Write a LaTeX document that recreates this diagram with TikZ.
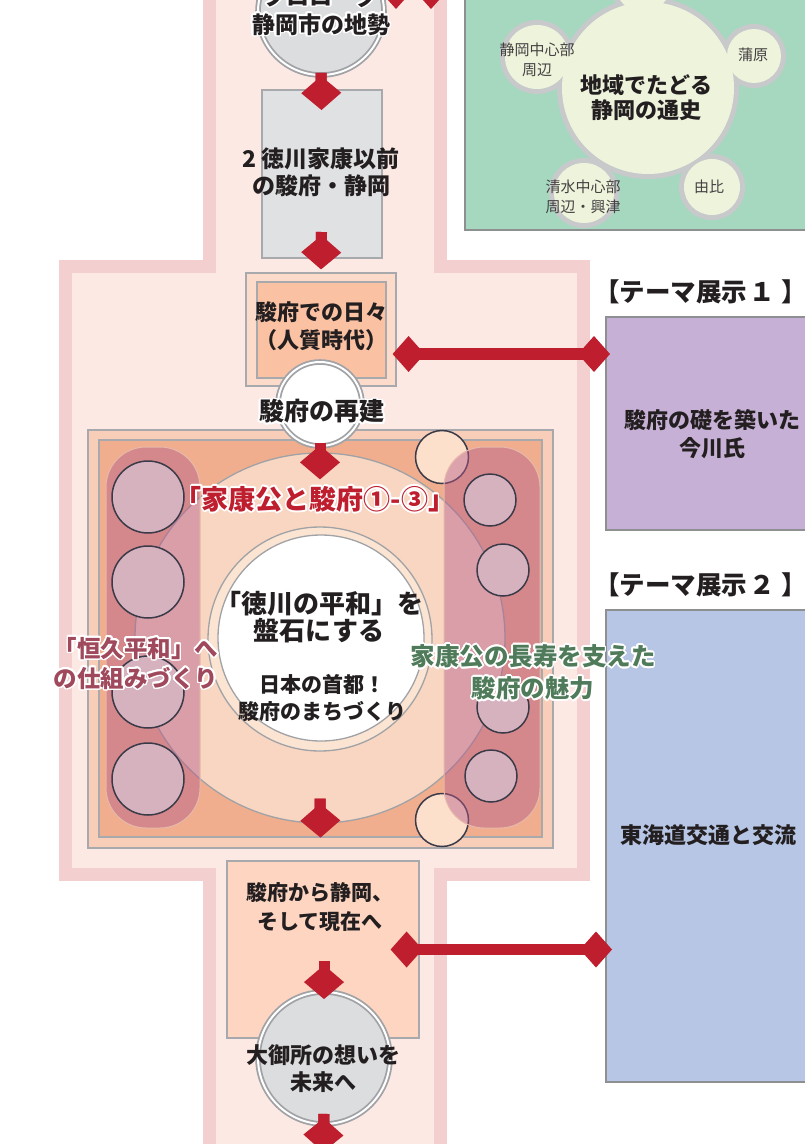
\documentclass[tikz,border=0pt]{standalone}
\usepackage{fontspec}
\setmainfont{Noto Sans CJK JP}
\usepackage{contour}
\contourlength{1.6pt}
\contournumber{24}
\usetikzlibrary{arrows.meta,calc}
\definecolor{band}{HTML}{F4CFCF}
\definecolor{corr}{HTML}{FDE9E4}
\definecolor{ared}{HTML}{BE1E2D}
\definecolor{lgray}{HTML}{DCDDDF}
\definecolor{cgray}{HTML}{A0A2A5}
\definecolor{gbox}{HTML}{E0E1E3}
\definecolor{boxgray}{HTML}{A7A9AC}
\definecolor{gfill}{HTML}{EEF3DC}
\definecolor{gring}{HTML}{C8C9CB}
\definecolor{grn}{HTML}{A6D8C0}
\definecolor{purp}{HTML}{C7B0D5}
\definecolor{blu}{HTML}{B6C6E4}
\definecolor{dbord}{HTML}{8E8F91}
\definecolor{hibiout}{HTML}{FDDBCA}
\definecolor{hibiin}{HTML}{FBC1A3}
\definecolor{mout}{HTML}{F9CEB9}
\definecolor{minb}{HTML}{F0AE8E}
\definecolor{bigc}{HTML}{F8D6C2}
\definecolor{ringc}{HTML}{FCE4D3}
\definecolor{peach}{HTML}{FDE0CB}
\definecolor{colc}{HTML}{B65A8A}
\definecolor{colbord}{HTML}{E6B9AA}
\definecolor{colcirc}{HTML}{D6B2BF}
\definecolor{cbord}{HTML}{3A3A48}
\definecolor{bpeach}{HTML}{FDD5C1}
\definecolor{txt}{HTML}{231F20}
\definecolor{kmauve}{HTML}{A0485C}
\definecolor{kgreen}{HTML}{4F7B5A}
\newcommand\fs[2]{\fontsize{#1}{#2}\selectfont}
\newcommand\hl[1]{\contour{white}{#1}}
\tikzset{
  lbl/.style={align=center, inner sep=0pt, text=txt, font=\bfseries},
  dbl/.style={draw=cgray, double=white, double distance=2pt, line width=1.8pt},
  rbox/.style={rectangle, draw=boxgray, line width=1.2pt, inner sep=0pt},
  dtip/.tip={Kite[length=34pt,width=40pt,inset=17pt,line width=0pt]},
  htip/.tip={Kite[length=32pt,width=36pt,inset=16pt,line width=0pt]},
  flowd/.style={draw=ared, line width=11pt, arrows={-dtip},
    preaction={draw=ared, line width=11pt, arrows=-, shorten >=17pt}},
  flowh/.style={draw=ared, line width=11.5pt, arrows={htip-htip},
    preaction={draw=ared, line width=11.5pt, arrows=-, shorten >=16pt, shorten <=16pt}},
  gc/.style={circle, fill=gfill, inner sep=0pt},
  colbox/.style={rounded corners=40pt, fill=colc, fill opacity=0.45, draw=colbord, line width=1pt},
  lcirc/.style={circle, fill=colcirc, draw=cbord, line width=1.5pt, inner sep=0pt},
  pcirc/.style={circle, fill=peach, draw=cbord, line width=1.5pt, inner sep=0pt},
}
\begin{document}
\begin{tikzpicture}[x=1pt,y=-1pt]
\useasboundingbox (0,0) rectangle (805,1144);
% corridor
\draw[line width=13pt, draw=band, fill=corr, line join=miter]
  (209,-20) -- (209,266.5) -- (65.5,266.5) -- (65.5,874) -- (209,874) -- (209,1170)
  -- (440,1170) -- (440,874) -- (583.5,874) -- (583.5,266.5) -- (440,266.5) -- (440,-20) -- cycle;
% green box
\node[rectangle, draw=dbord, fill=grn, line width=2pt, anchor=north west, minimum width=360pt, minimum height=240pt, inner sep=0pt] (green) at (464,-11) {};
\fill[gring] (648,88) circle (91);
\fill[gring] (643,-16) circle (33);
\fill[gring] (537,57) circle (37);
\fill[gring] (754,56) circle (32);
\fill[gring] (712,187) circle (33);
\fill[gring] (584,193) circle (35);
\node[gc, minimum size=172pt] (gbig) at (648,88) {};
\node[gc, minimum size=56pt] (gtop) at (643,-16) {};
\node[gc, minimum size=64pt] (gshiz) at (537,57) {};
\node[gc, minimum size=54pt] (gkan) at (754,56) {};
\node[gc, minimum size=56pt] (gyui) at (712,187) {};
\node[gc, minimum size=60pt] (gshim) at (584,193) {};
\node[lbl, font=\bfseries\fs{22}{25}] (tbig) at (646,98) {地域でたどる\\静岡の通史};
\node[lbl, font=\fs{15}{20}, text=txt!85] (tshiz) at (537,60) {静岡中心部\\周辺};
\node[lbl, font=\fs{15}{20}, text=txt!85] (tkan) at (753,55) {蒲原};
\node[lbl, font=\fs{15}{20}, text=txt!85] (tyui) at (709,187) {由比};
\node[lbl, font=\fs{15}{20}, text=txt!85] (tshim) at (583,197) {清水中心部\\周辺・興津};
% theme boxes
\node[rectangle, draw=dbord, fill=purp, line width=2pt, anchor=north west, minimum width=220pt, minimum height=213pt, inner sep=0pt] (purpbox) at (605,316) {};
\node[lbl, font=\bfseries\fs{22}{28}] (imagawa) at (712,434) {駿府の礎を築いた\\今川氏};
\node[lbl, font=\bfseries\fs{25.5}{28}, anchor=west] (title1) at (594,292) {【テーマ展示\kern2pt１\kern7pt】};
\node[rectangle, draw=dbord, fill=blu, line width=2pt, anchor=north west, minimum width=220pt, minimum height=472pt, inner sep=0pt] (blubox) at (605,609) {};
\node[lbl, font=\bfseries\fs{22}{28}] (tokai) at (708,835) {東海道交通と交流};
\node[lbl, font=\bfseries\fs{25.5}{28}, anchor=west] (title2) at (594,585) {【テーマ展示\kern2pt２\kern7pt】};
% prologue circle
\node[circle, dbl, fill=lgray, minimum size=126pt, inner sep=0pt] (pro) at (321,12) {};
\node[lbl, font=\bfseries\fs{23}{28}] (tpro) at (321,11) {\hl{プロローグ}\\\hl{静岡市の地勢}};
% box 2
\node[rbox, fill=gbox, line width=2pt, minimum width=120pt, minimum height=168pt] (box2) at (321.5,174) {};
\node[lbl, font=\bfseries\fs{23}{27}] (tbox2) at (321,172) {2 徳川家康以前\\の駿府・静岡};
% hibi box
\node[rbox, fill=hibiout, minimum width=150pt, minimum height=113pt] (hibiO) at (321,329.5) {};
\node[rbox, fill=hibiin, minimum width=129pt, minimum height=96pt] (hibiI) at (321.5,330) {};
\node[lbl, font=\bfseries\fs{22}{28}] (thibi) at (321,326) {駿府での日々\\（人質時代）};
% middle area
\node[rbox, fill=mout, minimum width=465pt, minimum height=418pt] (moutb) at (320.5,639) {};
\node[rbox, fill=minb, minimum width=443pt, minimum height=397pt] (minbox) at (320.5,638.5) {};
\node[circle, fill=bigc, draw=cgray, line width=1.3pt, minimum size=370pt, inner sep=0pt] (bigcirc) at (320,638) {};
\node[circle, fill=ringc, draw=cgray, line width=1.3pt, minimum size=224pt, inner sep=0pt] (ringcirc) at (320,639) {};
\node[circle, fill=white, draw=cgray, line width=1.3pt, minimum size=206pt, inner sep=0pt] (whitecirc) at (321,638) {};
\node[pcirc, minimum size=53pt] (pc1) at (442,457) {};
\node[pcirc, minimum size=53pt] (pc2) at (442,820) {};
\draw[colbox] (106,447) rectangle (200,828);
\draw[colbox] (444,447) rectangle (540,828);
\node[lcirc, minimum size=72pt] (lc1) at (148,497) {};
\node[lcirc, minimum size=72pt] (lc2) at (148,582) {};
\node[lcirc, minimum size=72pt] (lc3) at (148,692) {};
\node[lcirc, minimum size=72pt] (lc4) at (148,779) {};
\node[lcirc, minimum size=52pt] (rc1) at (490,500) {};
\node[lcirc, minimum size=52pt] (rc2) at (503,570) {};
\node[lcirc, minimum size=52pt] (rc3) at (503,707) {};
\node[lcirc, minimum size=52pt] (rc4) at (491,776) {};
% saiken circle
\node[circle, dbl, fill=white, minimum size=84pt, inner sep=0pt] (saiken) at (320,404) {};
\node[lbl, font=\bfseries\fs{25}{28}] (tsaiken) at (322,412) {\hl{駿府の再建}};
% middle texts
\node[lbl, font=\bfseries\fs{27}{28}, text=ared] (tkasho) at (315,500) {\hl{「家康公と駿府①-③」}};
\node[lbl, font=\bfseries\fs{26}{27}] (theiwa) at (319,617) {「徳川の平和」を\\盤石にする};
\node[lbl, font=\bfseries\fs{21}{27}] (tshuto) at (322,698) {日本の首都！\\駿府のまちづくり};
\node[lbl, font=\bfseries\fs{23.5}{30}, text=kmauve] (tkokyu) at (136,664) {\hl{「恒久平和」へ}\\\hl{の仕組みづくり}};
\node[lbl, font=\bfseries\fs{24.5}{32}, text=kgreen] (tchoju) at (533,673) {\hl{家康公の長寿を支えた}\\\hl{駿府の魅力}};
% bottom
\node[rbox, fill=bpeach, minimum width=192pt, minimum height=177pt] (genzai) at (323,949.5) {};
\node[lbl, font=\bfseries\fs{21}{29}] (tgenzai) at (320,907.5) {駿府から静岡、\\そして現在へ};
\node[circle, dbl, fill=lgray, minimum size=132pt, inner sep=0pt] (ogosho) at (324,1058) {};
\node[lbl, font=\bfseries\fs{22}{27}] (togosho) at (323,1069) {大御所の想いを\\未来へ};
\coordinate (exitpt) at (323,1152);
\coordinate (d0a) at (380,-9);
\coordinate (d0b) at (447,-9);
% arrows
\draw[flowd] ($(pro.south)+(0,-3)$) -- ($(box2.north)+(0,21)$);
\draw[flowd] ($(box2.south)+(0,-27)$) -- ($(hibiO.north)+(0,-3)$);
\draw[flowd] ($(saiken.south)+(0,-4)$) -- ($(bigcirc.north)+(0,27)$);
\draw[flowd] ($(bigcirc.south)+(0,-25)$) -- (minbox.south);
\draw[flowd] ($(ogosho.north)+(0,-30)$) -- ($(ogosho.north)+(0,8)$);
\draw[flowd] ($(ogosho.south)+(0,-11)$) -- (exitpt);
\draw[flowh] (d0a) -- (d0b);
\draw[flowh] ($(hibiI.east)+(6,24)$) -- ($(purpbox.west |- hibiI.east)+(5,24)$);
\draw[flowh] ($(genzai.east)+(-29,0)$) -- ($(blubox.west |- genzai.east)+(7,0)$);
\end{tikzpicture}
\end{document}
